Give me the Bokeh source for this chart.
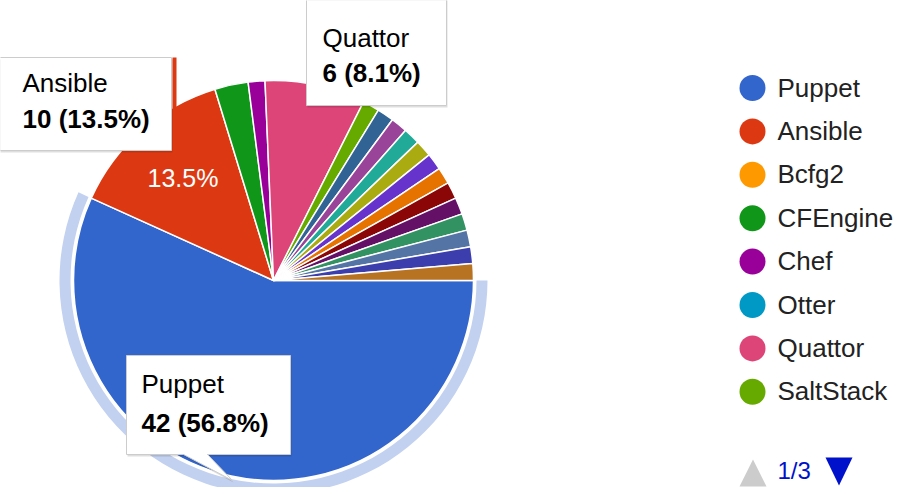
import math
from bokeh.plotting import figure
from bokeh.models import Range1d
from bokeh.embed import file_html
from bokeh.resources import INLINE
from bokeh.core.properties import value

# ---------------- data ----------------
categories = ["Puppet", "Ansible", "Bcfg2", "CFEngine", "Chef", "Otter", "Quattor", "SaltStack",
              "Item 9", "Item 10", "Item 11", "Item 12", "Item 13", "Item 14", "Item 15",
              "Item 16", "Item 17", "Item 18", "Item 19", "Item 20", "Item 21"]
counts = [42, 10, 0, 2, 1, 0, 6, 1,
          0, 1, 1, 1, 1, 1, 1, 1, 1, 1, 1, 1, 1]
colors = ["#3366cc", "#dc3912", "#ff9900", "#109618", "#990099", "#0099c6", "#dd4477", "#66aa00",
          "#b82e2e", "#316395", "#994499", "#22aa99", "#aaaa11", "#6633cc", "#e67300", "#8b0707",
          "#651067", "#329262", "#5574a6", "#3b3eac", "#b77322"]
legend_items = categories[:8]
legend_page = "1/3"
selected = "Puppet"
tooltip_items = ["Ansible", "Quattor", "Puppet"]
labelled_slices = ["Ansible"]

# ---------------- layout ----------------
PAGE_H = 503
FONT = value("Liberation Sans")


def Y(v):
    return PAGE_H - v


def TY(baseline, size):
    # vertical middle of the text whose alphabetic baseline is at page y = baseline
    return Y(baseline - 0.36 * size)


CX, CY = 273, Y(280)
R = 200

p = figure(width=902, height=487, x_range=Range1d(0, 902), y_range=Range1d(16, 503),
           output_backend="svg", toolbar_location=None, min_border=0,
           x_axis_location=None, y_axis_location=None)
p.grid.visible = False
p.outline_line_color = None
p.background_fill_color = "white"
p.border_fill_color = "white"

total = sum(counts)
starts, ends = [], []
acc = 0.0
for c in counts:
    a0 = acc / total * 2 * math.pi
    acc += c
    a1 = acc / total * 2 * math.pi
    starts.append(a0)
    ends.append(a1)

# slices (clockwise from 3 o'clock)
idx = [i for i, c in enumerate(counts) if c > 0]
p.wedge(x=CX, y=CY, radius=R,
        start_angle=[-starts[i] for i in idx], end_angle=[-ends[i] for i in idx],
        direction="clock", fill_color=[colors[i] for i in idx],
        line_color="white", line_width=1.5)

# selection ring
s = categories.index(selected)
p.annular_wedge(x=CX, y=CY, inner_radius=R + 3, outer_radius=R + 14,
                start_angle=-starts[s], end_angle=-ends[s], direction="clock",
                fill_color="#c2d1f0", line_color=None)

# slice percentage labels
for name in labelled_slices:
    i = categories.index(name)
    m = (starts[i] + ends[i]) / 2
    p.text(x=[CX + 0.685 * R * math.cos(m)], y=[CY - 0.685 * R * math.sin(m)],
           text=[f"{100 * counts[i] / total:.1f}%"], text_color="white",
           text_font=FONT, text_font_size="25px", text_align="center",
           text_baseline="middle")

# artifact strip next to Ansible tooltip
p.quad(left=[172], right=[176], top=[Y(57)], bottom=[Y(148)], color=colors[1], line_color=None)

# tooltips: (left, right, top, bottom, text x, baseline1, baseline2, tail)
boxes = {
    "Ansible": (-4, 171, 57, 150, 22, 92, 128, None),
    "Quattor": (306, 446, -6, 105, 322, 47, 82, None),
    "Puppet": (126, 290, 355, 454, 141, 393, 432, (183, 232, 480, 207)),
}
for name in tooltip_items:
    l, r, t, b, tx, b1, b2, tail = boxes[name]
    xs = [l, r, r]
    ys = [t, t, b]
    if tail:
        x0, xt, yt, x1 = tail
        xs += [x1, xt, x0]
        ys += [b, yt, b]
    xs += [l]
    ys += [b]
    p.patch([x + 1 for x in xs], [Y(y + 2) for y in ys], fill_color="black",
            fill_alpha=0.13, line_color=None)
    p.patch(xs, [Y(y) for y in ys], fill_color="white", line_color="#cccccc", line_width=1)
    i = categories.index(name)
    p.text(x=[tx], y=[TY(b1, 26)], text=[name], text_color="black", text_font=FONT,
           text_font_size="26px", text_baseline="middle")
    p.text(x=[tx], y=[TY(b2, 26)], text=[f"{counts[i]} ({100 * counts[i] / total:.1f}%)"],
           text_color="black", text_font=FONT, text_font_size="26px",
           text_font_style="bold", text_baseline="middle")

# legend
lrow = [87.5 + 43.4 * k for k in range(len(legend_items))]
p.scatter(x=[752] * len(legend_items), y=[Y(v) for v in lrow], size=26, marker="circle",
          fill_color=[colors[categories.index(n)] for n in legend_items], line_color=None)
p.text(x=[777] * len(legend_items), y=[TY(v + 9, 26) for v in lrow], text=legend_items,
       text_color="#222222", text_font=FONT, text_font_size="26px",
       text_baseline="middle")

# pager
p.patch([739, 766, 752.5], [Y(486), Y(486), Y(459)], fill_color="#cccccc", line_color=None)
p.patch([825, 852, 838.5], [Y(457), Y(457), Y(485)], fill_color="#0011cc", line_color=None)
p.text(x=[777], y=[TY(479, 24)], text=[legend_page], text_color="#0011cc", text_font=FONT,
       text_font_size="24px", text_baseline="middle")

open("out.html", "w").write(file_html(p, INLINE))
